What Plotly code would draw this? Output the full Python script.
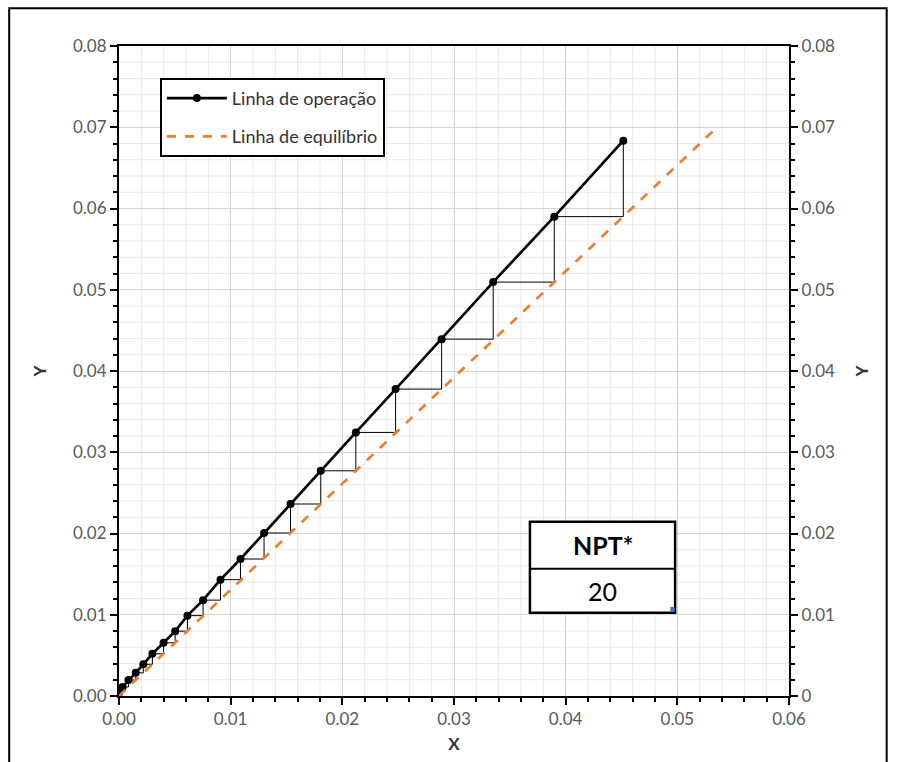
import plotly.graph_objects as go

# Operating line points (stage points)
op_x = [0.04516, 0.03898, 0.03351, 0.02889, 0.02477, 0.02121, 0.01807, 0.01536,
        0.01299, 0.01088, 0.00909, 0.00753, 0.00613, 0.00503, 0.00399, 0.00299,
        0.00218, 0.00150, 0.00085, 0.00032, 0.0]
op_y = [0.06835, 0.05900, 0.05094, 0.04392, 0.03777, 0.03244, 0.02772, 0.02363,
        0.02006, 0.01686, 0.01432, 0.01180, 0.00989, 0.00798, 0.00655, 0.00520,
        0.00390, 0.00285, 0.00196, 0.00111, 0.00042]

# Equilibrium line end points
eq_x = [0.0, 0.05356]
eq_y = [0.0, 0.0700]

npt_label = "NPT*"
npt_value = "20"

x_range = [0, 0.06]
y_range = [0, 0.08]
major_step = 0.01
right_zero_label = {"0.00": "0"}

# Minor tick / grid positions every 0.002 (skipping the majors)
x_minor = [round(i * 0.002, 4) for i in range(31) if i % 5]
y_minor = [round(i * 0.002, 4) for i in range(41) if i % 5]

# Stairs built from the operating points
st_x, st_y = [], []
for i in range(len(op_x) - 1):
    st_x += [op_x[i], op_x[i], op_x[i + 1], None]
    st_y += [op_y[i], op_y[i + 1], op_y[i + 1], None]

FONT = "Lato"
TICKC = "#595959"
MINOR_GRID = "#e9e9e9"

fig = go.Figure()
fig.add_trace(go.Scatter(x=st_x, y=st_y, mode="lines", line=dict(color="black", width=1),
                         showlegend=False, hoverinfo="skip"))
fig.add_trace(go.Scatter(x=op_x, y=op_y, mode="lines+markers", name="Linha de operação",
                         legendgroup="a",
                         line=dict(color="black", width=2.7),
                         marker=dict(color="black", size=8)))
fig.add_trace(go.Scatter(x=eq_x, y=eq_y, mode="lines", name="Linha de equilíbrio",
                         legendgroup="b",
                         line=dict(color="#ED7D31", width=2.7, dash="dash")))
# empty helper traces so that the extra (tick-only) axes are rendered
fig.add_trace(go.Scatter(x=[None], y=[None], yaxis="y2", showlegend=False, hoverinfo="skip"))
fig.add_trace(go.Scatter(x=[None], y=[None], xaxis="x2", showlegend=False, hoverinfo="skip"))
fig.add_trace(go.Scatter(x=[None], y=[None], yaxis="y3", showlegend=False, hoverinfo="skip"))
fig.add_trace(go.Scatter(x=[None], y=[None], yaxis="y4", showlegend=False, hoverinfo="skip"))

axis_common = dict(showline=True, linecolor="black", linewidth=2,
                   tickmode="linear", tick0=0, dtick=major_step, tickformat=".2f",
                   ticks="outside", ticklen=7, tickwidth=2, tickcolor="black",
                   tickfont=dict(family=FONT, size=17, color=TICKC),
                   zeroline=False, automargin=False)

minor_axis = dict(tickmode="array", ticks="outside", ticklen=5, tickwidth=1.5,
                  tickcolor="black", showticklabels=False, showgrid=False,
                  showline=False, zeroline=False, automargin=False)

title_font = dict(family=FONT, size=17, color="#333333")

fig.update_layout(
    width=897, height=762,
    margin=dict(l=119, r=108, t=46, b=66, autoexpand=False),
    paper_bgcolor="white", plot_bgcolor="white",
    font=dict(family=FONT),
    xaxis=dict(range=x_range, mirror=True, showgrid=True, gridcolor="#d4d4d4", gridwidth=1.2,
               title=dict(text="<b>X</b>", font=title_font, standoff=10),
               **axis_common),
    yaxis=dict(range=y_range, showgrid=True, gridcolor="#d4d4d4", gridwidth=1.2,
               title=dict(text="<b>Y</b>", font=title_font, standoff=22),
               **axis_common),
    yaxis2=dict(range=y_range, overlaying="y", side="right", showgrid=False,
                labelalias=right_zero_label,
                title=dict(text="<b>Y</b>", font=title_font, standoff=22),
                **axis_common),
    xaxis2=dict(range=x_range, overlaying="x", side="bottom", anchor="y",
                tickvals=x_minor, **minor_axis),
    yaxis3=dict(range=y_range, overlaying="y", side="left", anchor="x",
                tickvals=y_minor, **minor_axis),
    yaxis4=dict(range=y_range, overlaying="y", side="right", anchor="x",
                tickvals=y_minor, **minor_axis),
    legend=dict(x=0.061, y=0.951, xanchor="left", yanchor="top",
                bgcolor="white", bordercolor="black", borderwidth=2,
                font=dict(family=FONT, size=18, color="#333333"),
                itemwidth=60, tracegroupgap=12),
    showlegend=True,
)

# Minor grid lines (drawn between the major grid and the data)
for v in x_minor:
    fig.add_shape(type="line", xref="x", yref="paper", x0=v, x1=v, y0=0, y1=1,
                  line=dict(color=MINOR_GRID, width=1), layer="between")
for v in y_minor:
    fig.add_shape(type="line", xref="paper", yref="y", x0=0, x1=1, y0=v, y1=v,
                  line=dict(color=MINOR_GRID, width=1), layer="between")

# Outer frame around the whole picture
fig.add_shape(type="rect", xref="paper", yref="paper",
              x0=-0.1639, x1=1.1458, y0=-0.115, y1=1.058,
              line=dict(color="black", width=2), layer="above")

# NPT table
fig.add_shape(type="rect", xref="x", yref="y", x0=0.0368, x1=0.0498, y0=0.01026, y1=0.02145,
              line=dict(color="black", width=2.5), fillcolor="white", layer="above")
fig.add_shape(type="line", xref="x", yref="y", x0=0.0368, x1=0.0498, y0=0.01567, y1=0.01567,
              line=dict(color="black", width=2), layer="above")
fig.add_shape(type="rect", xref="x", yref="y", x0=0.04937, x1=0.04976, y0=0.01035, y1=0.01095,
              line=dict(color="#4472C4", width=0), fillcolor="#4472C4", layer="above")
fig.add_annotation(x=0.0433, y=0.01856, xref="x", yref="y", text="<b>" + npt_label + "</b>",
                   showarrow=False, font=dict(family=FONT, size=25, color="black"))
fig.add_annotation(x=0.0433, y=0.01296, xref="x", yref="y", text=npt_value,
                   showarrow=False, font=dict(family=FONT, size=25, color="black"))

fig.write_html("out.html", config={"displayModeBar": False},
               post_script="document.body.style.margin='0px';document.body.style.overflow='hidden';")
